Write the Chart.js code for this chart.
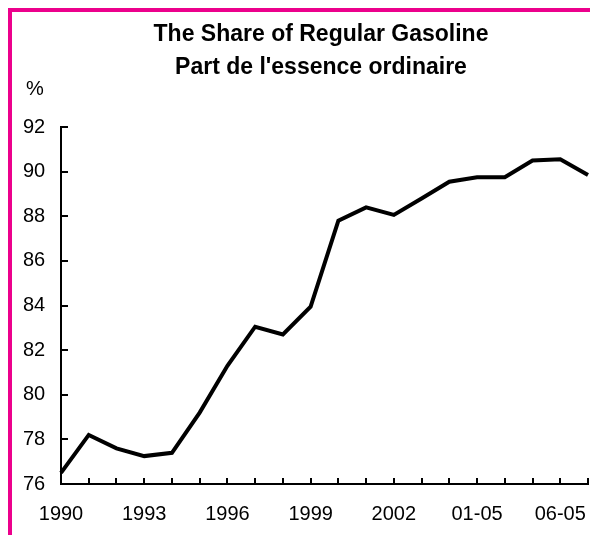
<!DOCTYPE html>
<html>
<head>
<meta charset="utf-8">
<script src="https://cdn.jsdelivr.net/npm/chart.js@4"></script>
<style>
  html, body { margin: 0; padding: 0; background: #fff; overflow: hidden; }
  .frame {
    position: absolute; left: 8px; top: 8px; width: 600px; height: 540px;
    border-left: 4px solid #ec008c; border-top: 4px solid #ec008c;
  }
  .frame canvas { position: absolute; left: 0; top: 0; }
</style>
</head>
<body>
<div class="frame"><canvas id="myChart" width="618" height="523"></canvas></div>
<script>
const categories = ["1990", "1991", "1992", "1993", "1994", "1995", "1996", "1997", "1998", "1999",
  "2000", "2001", "2002", "2003", "2004", "01-05", "02-05", "04-05", "06-05", "07-05"];
const shareRegular = [76.5, 78.2, 77.6, 77.25, 77.4, 79.2, 81.3, 83.05, 82.7, 83.95,
  87.8, 88.4, 88.06, 88.8, 89.55, 89.75, 89.75, 90.5, 90.55, 89.85];
const titleLines = ["The Share of Regular Gasoline", "Part de l'essence ordinaire"];
const unitLabel = "%";
const labelEvery = 3;

const FONT = "'Liberation Sans', Arial, sans-serif";

// the "%" sits above the y axis labels
const unitPlugin = {
  id: "unitLabel",
  afterDraw(chart) {
    const ctx = chart.ctx;
    ctx.save();
    ctx.font = "20px " + FONT;
    ctx.fillStyle = "#000";
    ctx.textAlign = "center";
    ctx.textBaseline = "middle";
    ctx.fillText(unitLabel, chart.chartArea.left - 26, chart.chartArea.top - 38);
    ctx.restore();
  }
};

const canvas = document.getElementById("myChart");
new Chart(canvas, {
  type: "line",
  data: {
    labels: categories,
    datasets: [{
      data: shareRegular,
      borderColor: "#000",
      borderWidth: 4,
      pointRadius: 0,
      tension: 0,
      fill: false
    }]
  },
  options: {
    responsive: false,
    animation: false,
    devicePixelRatio: 1,
    // equal side padding keeps the title centred over the plot
    layout: { padding: { left: 42, right: 42, top: 0, bottom: 0 } },
    plugins: {
      legend: { display: false },
      tooltip: { enabled: false },
      title: {
        display: true,
        text: titleLines,
        color: "#000",
        font: { family: FONT, size: 23, weight: "bold", lineHeight: 1.435 },
        padding: { top: 6, bottom: 43 }
      }
    },
    scales: {
      x: {
        grid: { color: "#000", lineWidth: 2, drawOnChartArea: false, tickLength: -6 },
        border: { color: "#000", width: 2 },
        ticks: {
          color: "#000",
          font: { family: FONT, size: 20 },
          padding: 24,
          autoSkip: false,
          maxRotation: 0,
          callback: (v, i) => (i % labelEvery === 0 ? categories[i] : "")
        },
        afterFit: s => { s.height = 51; }
      },
      y: {
        min: 76,
        max: 92,
        grid: { color: "#000", lineWidth: 2, drawOnChartArea: false, tickLength: -7 },
        border: { color: "#000", width: 2 },
        // mirrored labels are not clipped to the narrow axis box,
        // negative padding moves them back out to the left of the axis
        ticks: {
          stepSize: 2,
          color: "#000",
          font: { family: FONT, size: 20 },
          mirror: true,
          crossAlign: "far",
          padding: -38
        },
        afterFit: s => { s.width = 7; }
      }
    }
  },
  plugins: [unitPlugin]
});
</script>
</body>
</html>
